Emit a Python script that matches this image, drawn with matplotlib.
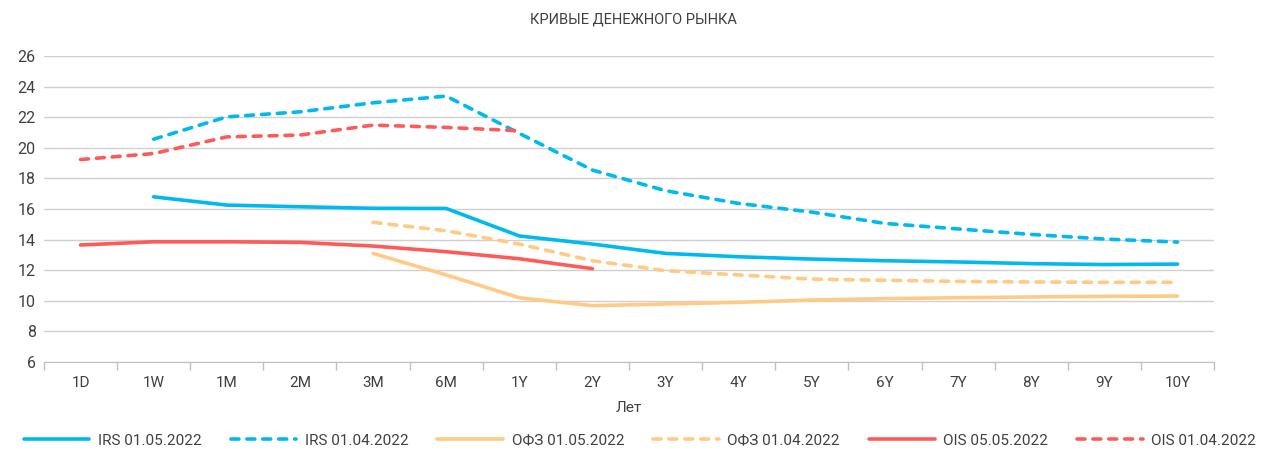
import numpy as np
import matplotlib.pyplot as plt
from matplotlib.ticker import FixedLocator

plt.rcParams['font.family'] = ['Roboto', 'DejaVu Sans']

nan = np.nan
tenors = ["1D", "1W", "1M", "2M", "3M", "6M", "1Y", "2Y", "3Y", "4Y", "5Y", "6Y", "7Y", "8Y", "9Y", "10Y"]

irs_may = [nan, 16.8, 16.26, 16.15, 16.05, 16.04, 14.24, 13.71, 13.1, 12.88, 12.73, 12.62, 12.54, 12.43, 12.37, 12.4]
irs_apr = [nan, 20.57, 22.03, 22.36, 22.95, 23.39, 20.95, 18.55, 17.2, 16.37, 15.8, 15.06, 14.7, 14.34, 14.04, 13.84]
ofz_may = [nan, nan, nan, nan, 13.1, 11.69, 10.2, 9.68, 9.79, 9.9, 10.05, 10.14, 10.2, 10.25, 10.29, 10.31]
ofz_apr = [nan, nan, nan, nan, 15.13, 14.58, 13.71, 12.62, 11.97, 11.69, 11.42, 11.34, 11.27, 11.23, 11.21, 11.21]
ois_may = [13.65, 13.86, 13.86, 13.82, 13.58, 13.21, 12.75, 12.1, nan, nan, nan, nan, nan, nan, nan, nan]
ois_apr = [19.24, 19.63, 20.72, 20.84, 21.49, 21.34, 21.12, nan, nan, nan, nan, nan, nan, nan, nan, nan]

blue = "#00B9EE"
orange = "#FFCA85"
red = "#FF5A5A"
txt = "#404040"

fig = plt.figure(figsize=(12.67, 4.53), dpi=100)
ax = fig.add_axes([0.0347, 0.201, 0.9235, 0.675])

x = np.arange(len(tenors))
lw = 2.6
dash = (2.2, 2.2)
ax.plot(x, irs_may, color=blue, lw=lw, solid_capstyle="round", label="IRS 01.05.2022")
ax.plot(x, irs_apr, color=blue, lw=lw, dashes=dash, dash_capstyle="round", label="IRS 01.04.2022")
ax.plot(x, ofz_may, color=orange, lw=lw, solid_capstyle="round", label="ОФЗ 01.05.2022")
ax.plot(x, ofz_apr, color=orange, lw=lw, dashes=dash, dash_capstyle="round", label="ОФЗ 01.04.2022")
ax.plot(x, ois_may, color=red, lw=lw, solid_capstyle="round", label="OIS 05.05.2022")
ax.plot(x, ois_apr, color=red, lw=lw, dashes=dash, dash_capstyle="round", label="OIS 01.04.2022")

ax.set_xlim(-0.5, len(tenors) - 0.5)
ax.set_ylim(6, 26)
ax.set_yticks(np.arange(6, 27, 2))
ax.set_xticks(x)
ax.set_xticklabels(tenors)
ax.xaxis.set_minor_locator(FixedLocator(np.arange(-0.5, len(tenors), 1)))
ax.tick_params(axis="x", which="major", length=0, pad=10, labelsize=11, labelcolor=txt)
ax.tick_params(axis="x", which="minor", length=6, color="#bfbfbf", width=1)
ax.tick_params(axis="y", length=0, labelsize=11.5, labelcolor=txt, pad=6)
ax.grid(axis="y", color="#d0d0d0", lw=1)
ax.set_axisbelow(True)
for s in ["top", "right", "left"]:
    ax.spines[s].set_visible(False)
ax.spines["bottom"].set_color("#bfbfbf")

ax.set_xlabel("Лет", fontsize=11, color=txt, labelpad=8)
fig.text(0.5, 0.958, "КРИВЫЕ ДЕНЕЖНОГО РЫНКА", ha="center", va="center", fontsize=10.5, color=txt)

fig.legend(loc="center", bbox_to_anchor=(0.505, 0.027), ncol=6, frameon=False,
           fontsize=11, handlelength=4.3, columnspacing=1.9, handletextpad=0.55,
           labelcolor=txt)

fig.savefig("out.png", dpi=100)
